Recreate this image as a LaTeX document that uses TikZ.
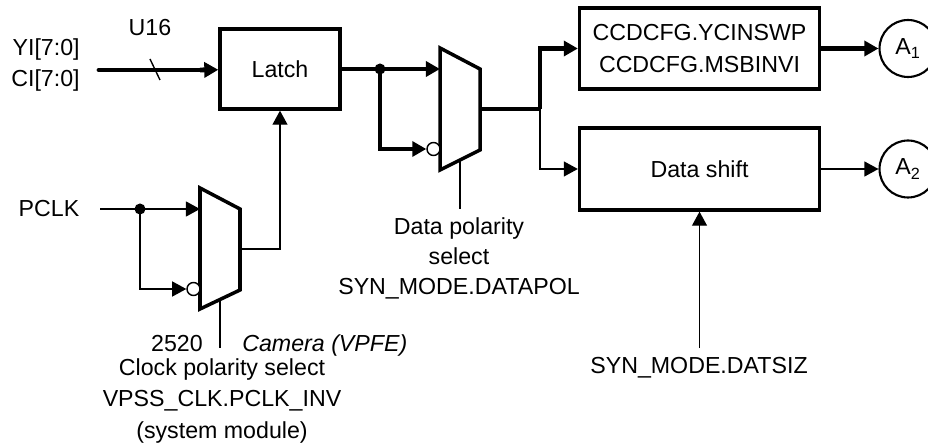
\documentclass[tikz,border=0pt]{standalone}
\usepackage{fontspec}
\setmainfont{Liberation Sans}
\usetikzlibrary{arrows.meta, positioning}

\begin{document}
\begin{tikzpicture}[x=0.02cm, y=-0.02cm,
    every node/.style={font=\fontsize{13.2}{17.5}\selectfont, inner sep=0pt},
    blockbox/.style={draw, line width=1.9pt, minimum width=4.8cm, minimum height=1.62cm, align=center},
    bus/.style={line width=2.8pt},
    wire/.style={line width=0.8pt},
    tip/.style={-{Triangle[length=8pt,width=8.5pt]}},
    muxbody/.style={line width=2pt, line join=miter},
    invbubble/.style={circle, draw, line width=0.8pt, fill=white, minimum size=0.26cm},
    joint/.style={circle, fill=black, minimum size=0.22cm},
    portcircle/.style={circle, draw, line width=1.2pt, minimum size=1.14cm}]
  \useasboundingbox (0,0) rectangle (928,445);
  % Blocks
  \node[draw, line width=1.9pt, minimum width=2.4cm, minimum height=1.6cm] (latch) at (280,69) {Latch};
  \node[blockbox] (cfg) at (699.5,48.5) {CCDCFG.YCINSWP\\[0.6pt]CCDCFG.MSBINVI};
  \node[blockbox, minimum height=1.64cm] (shift) at (699.5,169) {Data shift};
  \node[portcircle] (a1) at (908,48.5) {A\textsubscript{1}};
  \node[portcircle] (a2) at (908,169) {A\textsubscript{2}};
  % Data polarity mux
  \draw[muxbody] (440,48) -- (480,69) -- (480,150) -- (440,170) -- cycle;
  \coordinate (m2in0) at (440,69);
  \coordinate (m2out) at (480,109);
  \coordinate (m2sel) at (460,160);
  \node[invbubble] (inv2) at (433.5,149) {};
  % Clock polarity mux
  \draw[muxbody] (200,188) -- (240,209) -- (240,290) -- (200,309) -- cycle;
  \coordinate (m1in0) at (200,209);
  \coordinate (m1out) at (240,249);
  \coordinate (m1sel) at (220,299.5);
  \node[invbubble] (inv1) at (193.5,289) {};
  % Inputs
  \node[anchor=east, align=right] (yici) at (80,65) {YI[7:0]\\CI[7:0]};
  \node (u16) at (150,28) {U16};
  \node (pclk) at (49,209) {PCLK};
  \coordinate (din) at (99,70);
  \coordinate (pin) at (100,209);
  \draw[bus, line cap=round] (din) -- (200,70);
  \draw[bus, tip] (200,70) -- (latch);
  \draw[wire] (150,59) -- (160,80);
  % Latch to data polarity mux
  \coordinate (j1) at (380,69);
  \draw[bus] (latch.east) -- (j1);
  \draw[bus, tip] (j1) -- (m2in0);
  \draw[bus, tip] (j1) |- (inv2);
  \node[joint] (dot1) at (j1) {};
  % Mux output to the two blocks
  \coordinate (j2) at (540,109);
  \draw[bus] (m2out) -- (j2);
  \draw[bus, tip] (j2) |- (cfg.west);
  \draw[wire, tip] (j2) |- (shift.west);
  \draw[bus, tip] (cfg) -- (a1);
  \draw[wire, tip] (shift) -- (a2);
  % Clock path
  \coordinate (j3) at (140,209);
  \draw[wire] (pin) -- (j3);
  \draw[wire, tip] (j3) -- (m1in0);
  \draw[wire, tip] (j3) |- (inv1);
  \node[joint] (dot2) at (j3) {};
  \draw[wire, tip] (m1out) -| (latch.south);
  % Select lines
  \coordinate (m1selend) at (220,348);
  \coordinate (m2selend) at (460,209);
  \coordinate (dsz) at (699.5,348);
  \draw[wire] (m1sel) -- (m1selend);
  \draw[wire] (m2sel) -- (m2selend);
  \draw[wire, tip] (dsz) -- (shift.south);
  % Labels
  \node[align=center, font=\fontsize{13.2}{17.3}\selectfont] (dpol) at (459,258.5) {Data polarity\\select\\SYN\_MODE.DATAPOL};
  \node (datsiz) at (699,368) {SYN\_MODE.DATSIZ};
  \node (chip) at (177,344) {2520};
  \node[anchor=west, font=\fontsize{13.2}{17.5}\selectfont\itshape] (cam) at (242,345) {Camera (VPFE)};
  \node[align=center, font=\fontsize{13.2}{18.1}\selectfont] (cpol) at (222,401) {Clock polarity select\\VPSS\_CLK.PCLK\_INV\\(system module)};
\end{tikzpicture}
\end{document}
